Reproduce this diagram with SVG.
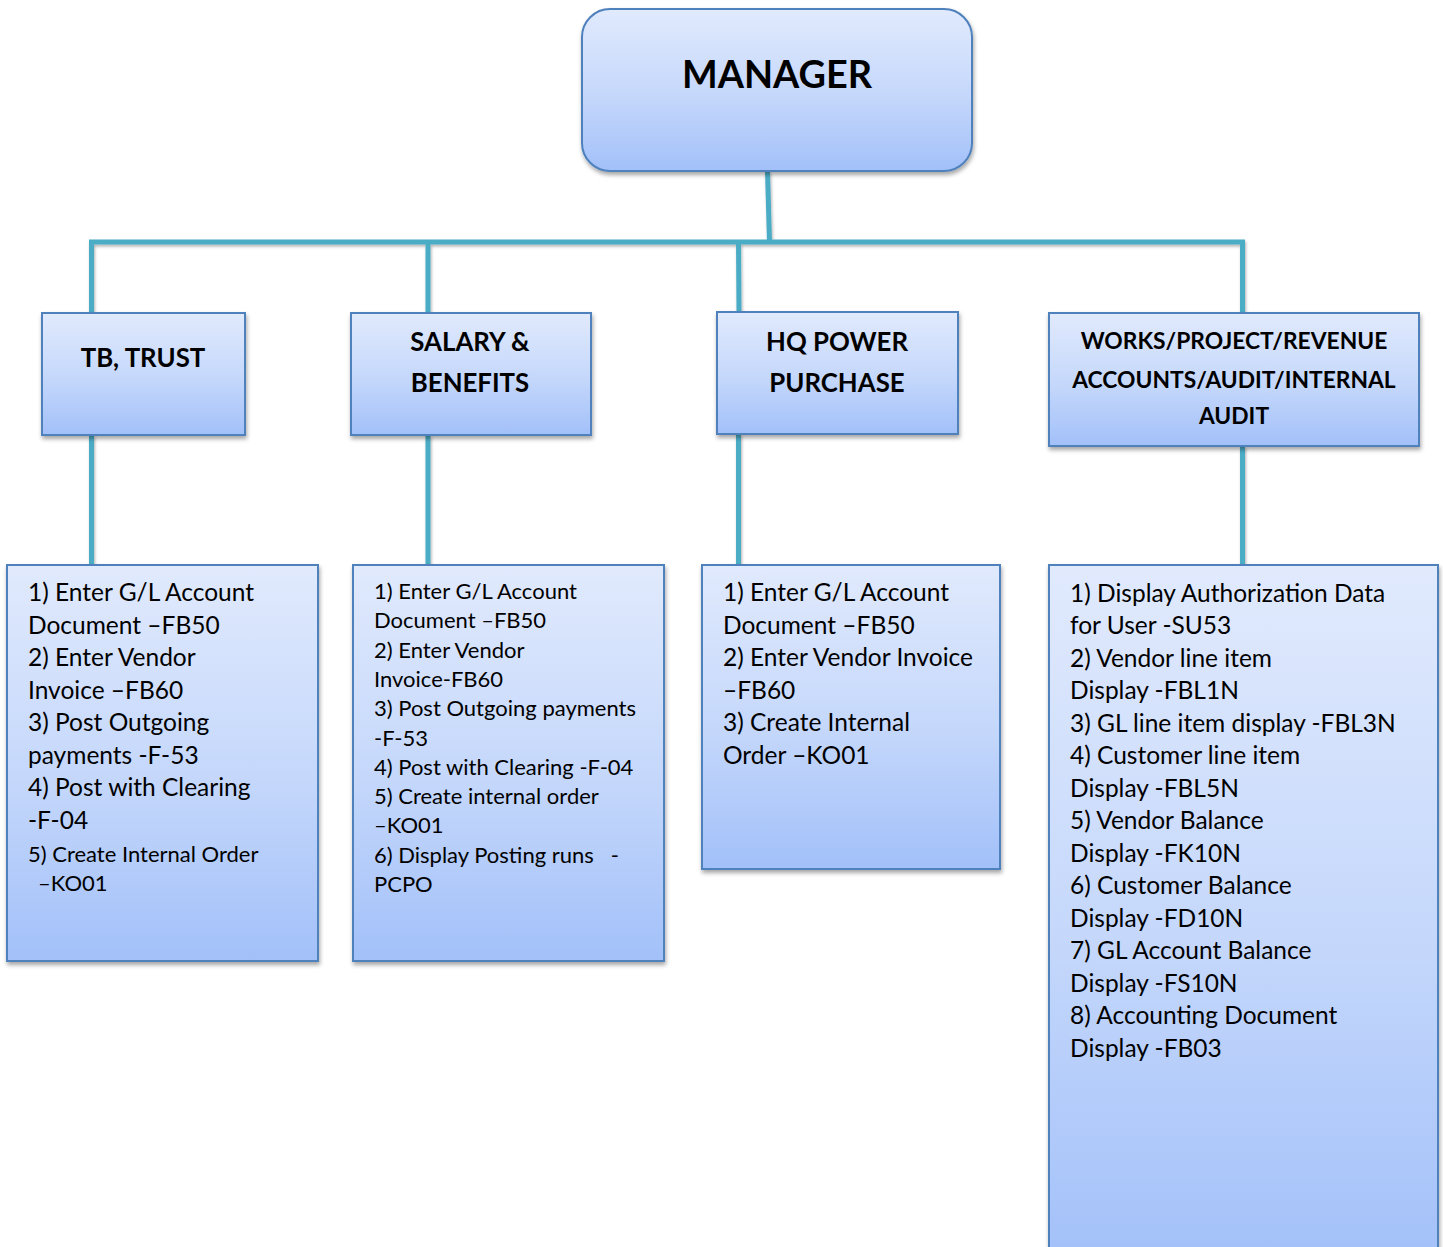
<svg xmlns="http://www.w3.org/2000/svg" width="1443" height="1247" viewBox="0 0 1443 1247">
<defs>
<linearGradient id="g" x1="0" y1="0" x2="0" y2="1">
<stop offset="0" stop-color="#E1EAFD"/>
<stop offset="0.55" stop-color="#C4D7FB"/>
<stop offset="1" stop-color="#A2C0F9"/>
</linearGradient>
<filter id="sh" x="-10%" y="-10%" width="130%" height="130%">
<feDropShadow dx="1" dy="3" stdDeviation="2" flood-color="#000" flood-opacity="0.35"/>
</filter>
<filter id="lsh" filterUnits="userSpaceOnUse" x="0" y="0" width="1443" height="1247">
<feDropShadow dx="1" dy="2" stdDeviation="1.5" flood-color="#000" flood-opacity="0.3"/>
</filter>
</defs>
<style>
.box{fill:url(#g);stroke:#4F81BD;stroke-width:2;filter:url(#sh)}
.con{fill:none;stroke:#4BACC6;stroke-width:5;stroke-linejoin:miter}
.h{font-family:Lato,"Liberation Sans",sans-serif;font-weight:bold;fill:#000;text-anchor:middle}
.t{font-family:Lato,"Liberation Sans",sans-serif;fill:#000;font-size:24.5px}
.t2{font-family:Lato,"Liberation Sans",sans-serif;fill:#000;font-size:22px}
</style>
<rect width="1443" height="1247" fill="#fff"/>
<g id="connectors" filter="url(#lsh)">
<path class="con" d="M767.5 171 L769.5 242"/>
<path class="con" d="M91.5 313 L91.5 242 L1242.5 242 L1242.5 313"/>
<path class="con" d="M428 242 L428 313"/>
<path class="con" d="M738.5 242 L739 312"/>
<path class="con" d="M91.5 435 L91.5 565"/>
<path class="con" d="M428 435 L428 565"/>
<path class="con" d="M738.5 434 L738.5 565"/>
<path class="con" d="M1242.5 446 L1242.5 565"/>
</g>
<g id="manager">
<rect class="box" x="582" y="9" width="390" height="162" rx="28"/>
<text class="h" x="777" y="88" font-size="37.8">MANAGER</text>
</g>
<g id="tb-trust">
<rect class="box" x="42" y="313" width="203" height="122"/>
<text class="h" x="143" y="367" font-size="25.8">TB, TRUST</text>
</g>
<g id="salary">
<rect class="box" x="351" y="313" width="240" height="122"/>
<text class="h" x="470" y="351" font-size="25.8">SALARY &amp;</text>
<text class="h" x="470" y="392" font-size="25.8">BENEFITS</text>
</g>
<g id="hq-power">
<rect class="box" x="717" y="312" width="241" height="122"/>
<text class="h" x="837" y="351" font-size="25.8">HQ POWER</text>
<text class="h" x="837" y="392" font-size="25.8">PURCHASE</text>
</g>
<g id="works">
<rect class="box" x="1049" y="313" width="370" height="133"/>
<text class="h" x="1234" y="348.5" font-size="22.8">WORKS/PROJECT/REVENUE</text>
<text class="h" x="1234" y="387.5" font-size="22.8">ACCOUNTS/AUDIT/INTERNAL</text>
<text class="h" x="1234" y="424" font-size="22.8">AUDIT</text>
</g>
<g id="tb-list">
<rect class="box" x="7" y="565" width="311" height="396"/>
<text class="t" x="28" y="601">1) Enter G/L Account</text>
<text class="t" x="28" y="633.5">Document –FB50</text>
<text class="t" x="28" y="666">2) Enter Vendor</text>
<text class="t" x="28" y="698.5">Invoice –FB60</text>
<text class="t" x="28" y="731">3) Post Outgoing</text>
<text class="t" x="28" y="763.5">payments -F-53</text>
<text class="t" x="28" y="796">4) Post with Clearing</text>
<text class="t" x="28" y="828.5">-F-04</text>
<text class="t2" x="28" y="862">5) Create Internal Order</text>
<text class="t2" x="38" y="890.5">–KO01</text>
</g>
<g id="salary-list">
<rect class="box" x="353" y="565" width="311" height="396"/>
<text class="t2" x="374" y="599">1) Enter G/L Account</text>
<text class="t2" x="374" y="628.3">Document –FB50</text>
<text class="t2" x="374" y="657.6">2) Enter Vendor</text>
<text class="t2" x="374" y="686.9">Invoice-FB60</text>
<text class="t2" x="374" y="716.2">3) Post Outgoing payments</text>
<text class="t2" x="374" y="745.5">-F-53</text>
<text class="t2" x="374" y="774.8">4) Post with Clearing -F-04</text>
<text class="t2" x="374" y="804.1">5) Create internal order</text>
<text class="t2" x="374" y="833.4">–KO01</text>
<text class="t2" x="374" y="862.7" xml:space="preserve">6) Display Posting runs   -</text>
<text class="t2" x="374" y="892">PCPO</text>
</g>
<g id="hq-list">
<rect class="box" x="702" y="565" width="298" height="304"/>
<text class="t" x="723" y="601">1) Enter G/L Account</text>
<text class="t" x="723" y="633.5">Document –FB50</text>
<text class="t" x="723" y="666">2) Enter Vendor Invoice</text>
<text class="t" x="723" y="698.5">–FB60</text>
<text class="t" x="723" y="731">3) Create Internal</text>
<text class="t" x="723" y="763.5">Order –KO01</text>
</g>
<g id="works-list">
<rect class="box" x="1049" y="565" width="389" height="700"/>
<text class="t" x="1070" y="601.5">1) Display Authorization Data</text>
<text class="t" x="1070" y="634">for User -SU53</text>
<text class="t" x="1070" y="666.5">2) Vendor line item</text>
<text class="t" x="1070" y="699">Display -FBL1N</text>
<text class="t" x="1070" y="731.5">3) GL line item display -FBL3N</text>
<text class="t" x="1070" y="764">4) Customer line item</text>
<text class="t" x="1070" y="796.5">Display -FBL5N</text>
<text class="t" x="1070" y="829">5) Vendor Balance</text>
<text class="t" x="1070" y="861.5">Display -FK10N</text>
<text class="t" x="1070" y="894">6) Customer Balance</text>
<text class="t" x="1070" y="926.5">Display -FD10N</text>
<text class="t" x="1070" y="959">7) GL Account Balance</text>
<text class="t" x="1070" y="991.5">Display -FS10N</text>
<text class="t" x="1070" y="1024">8) Accounting Document</text>
<text class="t" x="1070" y="1056.5">Display -FB03</text>
</g>
</svg>
